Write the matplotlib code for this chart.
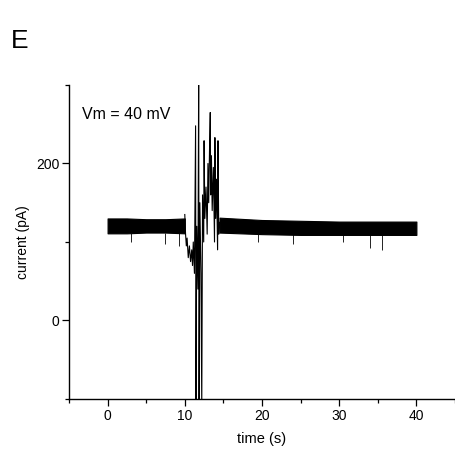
import numpy as np
import matplotlib.pyplot as plt
from matplotlib.ticker import MultipleLocator

plt.rcParams['font.family'] = ['Liberation Sans', 'DejaVu Sans']

# noisy baseline band (envelope), before and after the event
base1_t = [0.0, 2.5, 5.0, 7.5, 10.0]
base1_hi = [130, 130, 129, 129, 130]
base1_lo = [111, 111, 112, 112, 111]
base2_t = [14.5, 20.0, 25.0, 30.0, 35.0, 40.0]
base2_hi = [131, 128, 127, 126, 126, 126]
base2_lo = [112, 110, 109, 109, 109, 109]

# occasional downward noise spikes on the baseline
dip_t = [3.0, 7.5, 9.2, 19.5, 24.0, 30.5, 34.0, 35.5]
dip_y = [100, 97, 95, 100, 98, 100, 92, 90]

# event trace around 10-14.5 s
event_t = [10.0, 10.1, 10.2, 10.3, 10.45, 10.6, 10.75, 10.9, 11.0, 11.1, 11.25,
           11.4, 11.45, 11.55, 11.7, 11.8, 11.85, 11.95, 12.1, 12.2, 12.3, 12.45,
           12.5, 12.6, 12.75, 12.9, 13.0, 13.1, 13.2, 13.3, 13.35, 13.45, 13.55,
           13.7, 13.85, 13.9, 14.0, 14.1, 14.25, 14.3, 14.4, 14.5]
event_y = [135, 110, 95, 105, 80, 95, 75, 90, 70, 100, 60,
           248, -110, 120, 40, 310, -110, 150, 60, -110, 160, 100,
           229, 130, 170, 110, 200, 150, 215, 265, 160, 210, 140,
           195, 100, 233, 130, 180, 90, 229, 110, 125]

fig = plt.figure(figsize=(4.55, 4.49), dpi=100)
ax = fig.add_axes([0.1516, 0.1114, 0.8484, 0.6993])

ax.fill_between(base1_t, base1_lo, base1_hi, color='black', lw=0.8)
ax.fill_between(base2_t, base2_lo, base2_hi, color='black', lw=0.8)
ax.vlines(dip_t, dip_y, [112] * len(dip_t), color='black', lw=0.6)
ax.plot(event_t, event_y, color='black', lw=0.8)

ax.set_xlim(-5, 45)
ax.set_ylim(-100, 300)
ax.set_xticks([0, 10, 20, 30, 40])
ax.xaxis.set_minor_locator(MultipleLocator(5))
ax.set_yticks([0, 200])
ax.yaxis.set_minor_locator(MultipleLocator(100))
ax.tick_params(which='major', direction='out', length=5, width=0.9, labelsize=10, pad=2)
ax.tick_params(which='minor', direction='out', length=3, width=0.9)
for s in ['top', 'right']:
    ax.spines[s].set_visible(False)
for s in ['left', 'bottom']:
    ax.spines[s].set_linewidth(1.0)

ax.set_xlabel('time (s)', fontsize=10.5, labelpad=7)
ax.set_ylabel('current (pA)', fontsize=10, labelpad=4)
ax.text(0.035, 0.93, 'Vm = 40 mV', transform=ax.transAxes, fontsize=11.5, va='top')
fig.text(0.024, 0.909, 'E', fontsize=19, va='center')

fig.savefig('out.png', dpi=100)
